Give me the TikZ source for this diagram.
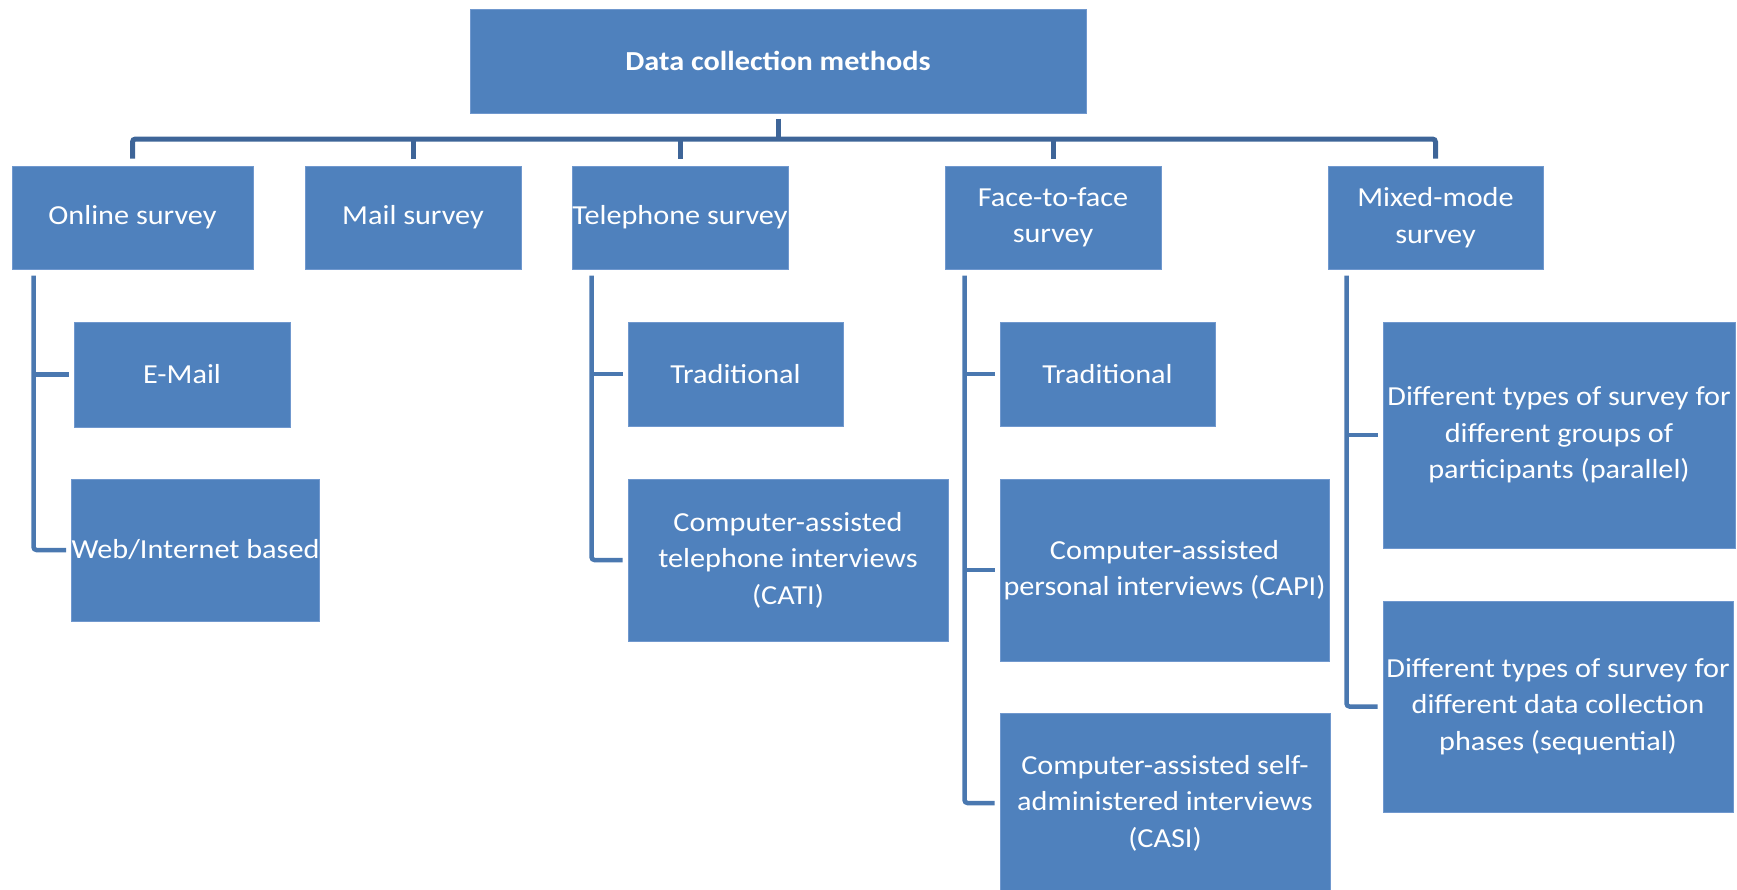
\documentclass[tikz,border=0pt]{standalone}
\usepackage{fontspec}
\setmainfont{Carlito}[FakeStretch=1.1]
\definecolor{boxfill}{RGB}{79,129,189}
\definecolor{boxedge}{RGB}{112,152,206}
\definecolor{busline}{RGB}{62,101,152}
\definecolor{subline}{RGB}{74,120,176}
\tikzset{
  box/.style={rectangle, fill=boxfill, draw=boxedge, line width=1pt, text=white,
    align=center, inner sep=0pt, font=\fontsize{27.5}{36.5}\selectfont},
  bus/.style={draw=busline, line width=5pt, rounded corners=3pt},
  subl/.style={draw=subline, line width=4.5pt, rounded corners=3pt},
}
\newcommand{\bx}[6]{\node[box, minimum width=#4pt, minimum height=#5pt] (#1) at (#2,#3) {#6};}
\begin{document}
\begin{tikzpicture}[x=1pt,y=-1pt]
\useasboundingbox (0,0) rectangle (1737,889);
\begin{scope}
\clip (0,0) rectangle (1737,889);
% level 0
\bx{root}{778}{61}{616}{104}{\textbf{Data collection methods}}
% level 1
\bx{onl}{132.5}{217.5}{241}{103}{Online survey}
\bx{mail}{413}{217.5}{216}{103}{Mail survey}
\bx{tel}{680}{217.5}{216}{103}{Telephone survey}
\bx{face}{1053}{217.5}{216}{103}{Face-to-face\\survey}
\bx{mix}{1435.5}{217.5}{215}{103}{Mixed-mode\\survey}
% level 2
\bx{email}{182}{374.5}{216}{105}{E-Mail}
\bx{web}{195.5}{550}{243}{142}{Web/Internet based}
\bx{ttrad}{735.5}{374}{215}{104}{Traditional}
\bx{cati}{788}{560}{320}{162}{Computer-assisted\\telephone interviews\\(CATI)}
\bx{ftrad}{1107.5}{374}{215}{104}{Traditional}
\bx{capi}{1164.5}{570}{329}{182}{Computer-assisted\\personal interviews (CAPI)}
\bx{casi}{1165}{803}{330}{180}{Computer-assisted self-\\administered interviews\\(CASI)}
\bx{par}{1559}{435}{352}{226}{Different types of survey for\\different groups of\\participants (parallel)}
\bx{seq}{1558}{706.5}{350}{211}{Different types of survey for\\different data collection\\phases (sequential)}
\end{scope}
% bus
\coordinate (busy) at (0,139);
\draw[bus] ([yshift=7pt]onl.north) -- (onl.north |- busy) -- (mix.north |- busy) -- ([yshift=7pt]mix.north);
\draw[bus, rounded corners=0pt] ([yshift=-5pt]root.south) -- (root.south |- busy);
\foreach \n in {mail,tel,face}
  \draw[bus, rounded corners=0pt] (\n.north |- busy) -- ([yshift=7pt]\n.north);
% sub trees
\coordinate (onlv) at ([xshift=22pt,yshift=-6pt]onl.south west);
\draw[subl] (onlv) |- ([xshift=-5pt]web.west);
\draw[subl, rounded corners=0pt] (onlv |- email.west) -- ([xshift=-5pt]email.west);
\coordinate (telv) at ([xshift=20pt,yshift=-6pt]tel.south west);
\draw[subl] (telv) |- ([xshift=-5pt]cati.west);
\draw[subl, rounded corners=0pt] (telv |- ttrad.west) -- ([xshift=-5pt]ttrad.west);
\coordinate (facev) at ([xshift=20pt,yshift=-6pt]face.south west);
\draw[subl] (facev) |- ([xshift=-5pt]casi.west);
\draw[subl, rounded corners=0pt] (facev |- ftrad.west) -- ([xshift=-5pt]ftrad.west);
\draw[subl, rounded corners=0pt] (facev |- capi.west) -- ([xshift=-5pt]capi.west);
\coordinate (mixv) at ([xshift=19pt,yshift=-6pt]mix.south west);
\draw[subl] (mixv) |- ([xshift=-5pt]seq.west);
\draw[subl, rounded corners=0pt] (mixv |- par.west) -- ([xshift=-5pt]par.west);
\end{tikzpicture}
\end{document}
